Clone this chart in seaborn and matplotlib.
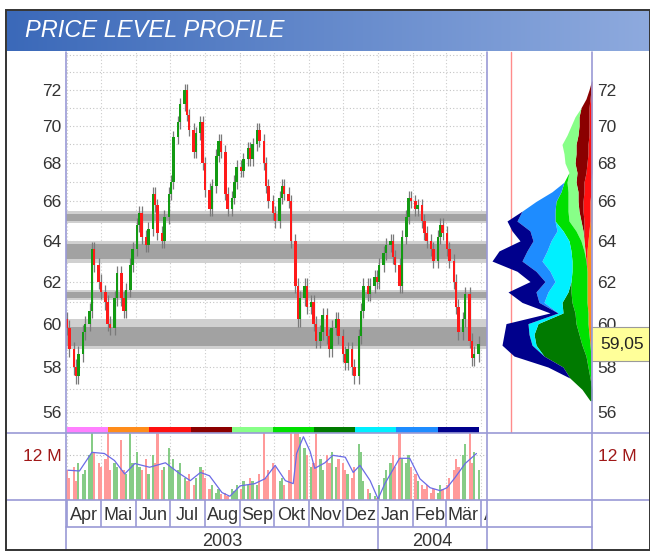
import numpy as np
import pandas as pd
import matplotlib
matplotlib.use("Agg")
import matplotlib.pyplot as plt
import matplotlib.dates as mdates
from matplotlib.lines import Line2D
from matplotlib.patches import Rectangle
from matplotlib.colors import LinearSegmentedColormap
from matplotlib.ticker import NullLocator, NullFormatter
from matplotlib.transforms import blended_transform_factory
import seaborn as sns

sns.set_style("white")
plt.rcParams["font.family"] = ["Liberation Sans", "DejaVu Sans"]

# closing prices, one every second trading day from 2003-04-01
closes = [
    59.8, 58.8, 58.0, 57.6, 58.6, 59.6, 60.0, 60.6, 63.6, 62.8, 62.0,          # Apr
    61.5, 61.0, 60.0, 59.8, 61.2, 62.4, 61.2, 60.6, 61.6, 62.8, 63.6,          # Mai
    64.8, 65.4, 64.2, 63.8, 64.6, 66.4, 65.8, 64.4, 64.0, 65.2, 66.4,          # Jun
    67.0, 69.4, 70.2, 71.2, 72.0, 70.6, 69.8, 68.6, 69.6, 70.2, 68.0,          # Jul
    66.6, 65.6, 66.8, 68.4, 69.2, 68.6, 66.4, 65.6, 66.2, 67.0, 67.8,          # Aug
    67.6, 68.2, 68.8, 68.2, 69.0, 69.8, 69.2, 68.0, 66.8, 66.0, 65.4,          # Sep
    65.0, 66.2, 66.8, 66.4, 66.0, 64.0, 61.8, 60.2, 61.2, 61.8, 60.8,          # Okt
    61.0, 60.0, 59.2, 59.6, 60.4, 59.4, 58.8, 59.8, 60.2, 59.4,                # Nov
    58.6, 58.2, 58.8, 58.0, 57.6, 59.4, 60.6, 61.8, 61.4, 61.8, 62.2, 62.0,    # Dez
    62.8, 63.4, 63.8, 64.0, 63.2, 62.8, 61.8, 64.2, 65.2, 66.2, 66.0,          # Jan
    65.6, 65.8, 65.0, 64.4, 64.0, 63.6, 63.0, 64.2, 64.8, 64.4,                # Feb
    63.6, 63.0, 62.0, 60.8, 59.6, 60.2, 61.4, 59.2, 58.4, 58.6, 59.05,         # Mär
]
first_open = 60.2
wick = 0.35

# volume in millions for the same days
volumes = [
    8, 6, 9, 5, 10, 7, 8, 12, 19, 13, 10,
    9, 11, 19, 8, 10, 9, 16, 8, 7, 19, 10,
    13, 9, 8, 11, 7, 12, 10, 19, 8, 9, 14,
    9, 11, 8, 10, 6, 5, 7, 4, 6, 9, 8,
    6, 3, 4, 2, 3, 1.5, 2, 1, 3, 2.5, 4,
    3, 5, 4, 6, 5, 4, 7, 19, 6, 8, 10,
    9, 5, 6, 4, 8, 19, 19, 19, 17, 14, 12,
    9, 10, 19, 11, 8, 12, 10, 13, 9, 11,
    10, 8, 7, 6, 9, 15, 13, 5, 3, 2, 1, 0.5,
    4, 6, 8, 10, 12, 9, 19, 11, 10, 12, 9,
    7, 5, 4, 3, 4, 2, 3, 2, 4, 3,
    4, 6, 8, 11, 9, 12, 15, 19, 10, 13, 8,
]

# volume moving average
ma_dates = ["2003-04-02", "2003-04-12", "2003-04-23", "2003-05-04", "2003-05-13", "2003-05-22",
            "2003-05-31", "2003-06-13", "2003-06-27", "2003-07-10", "2003-07-19", "2003-07-28",
            "2003-08-05", "2003-08-16", "2003-08-23", "2003-09-01", "2003-09-14", "2003-09-23",
            "2003-10-02", "2003-10-11", "2003-10-18", "2003-10-21", "2003-10-27", "2003-11-02",
            "2003-11-06", "2003-11-15", "2003-11-22", "2003-12-03", "2003-12-10", "2003-12-16",
            "2003-12-25", "2004-01-01", "2004-01-07", "2004-01-20", "2004-01-29", "2004-02-07",
            "2004-02-16", "2004-02-25", "2004-03-02", "2004-03-09", "2004-03-18", "2004-03-28"]
ma_values = [8.0, 7.8, 12.8, 12.5, 10.6, 7.0, 9.8, 8.8, 10.0, 7.0, 5.2, 7.4,
             6.5, 2.0, 1.0, 3.8, 4.4, 5.7, 9.3, 5.2, 4.4, 12.5, 17.0, 13.0,
             8.5, 10.0, 12.0, 11.5, 7.4, 9.3, 5.2, 0.3, 4.4, 11.2, 11.2, 5.7,
             3.3, 2.5, 3.3, 6.0, 9.8, 12.5]

# support / resistance zones
band_outer_lo = [64.9, 62.9, 61.1, 58.8]
band_outer_hi = [65.5, 64.0, 61.6, 60.2]
band_core_lo = [65.0, 63.1, 61.2, 58.95]
band_core_hi = [65.35, 63.85, 61.5, 59.85]

price_ticks = [56, 58, 60, 62, 64, 66, 68, 70, 72]
months = ["Apr", "Mai", "Jun", "Jul", "Aug", "Sep", "Okt", "Nov", "Dez", "Jan", "Feb", "Mär", "Apr"]
years = ["2003", "2004"]
last_price = 59.05
last_label = "59,05"

# price level profile: volume per period at each price level
profile_levels = [56.5, 57, 57.5, 58, 58.5, 59, 59.5, 60, 60.5, 61, 61.5, 62, 62.5, 63, 63.5, 64, 64.5,
                  65, 65.5, 66, 66.5, 67, 67.5, 68, 68.5, 69, 69.5, 70, 70.5, 71, 71.5, 72, 72.5]
prof_p1 = [0, 0, 1, 1, 1, 1, 1, 1, 1, 1, 1, 1, 1, 1, 1, 1, 0, 0, 0, 0, 0, 0, 0, 0, 0, 0, 0, 0, 0, 0, 0, 0, 0]
prof_p2 = [0, 0, 0, 0, 0, 1, 2, 3, 3, 4, 4, 4, 4, 4, 4, 3, 3, 2, 2, 2, 1, 1, 0, 0, 0, 0, 0, 0, 0, 0, 0, 0, 0]
prof_p3 = [0, 0, 0, 0, 0, 0, 0, 0, 0, 0, 0, 0, 0, 1, 2, 4, 5, 6, 7, 7, 7, 7, 6, 5, 4, 4, 3, 3, 3, 3, 2, 1, 0]
prof_p4 = [0, 0, 0, 0, 0, 0, 0, 0, 0, 0, 0, 0, 0, 0, 0, 0, 1, 3, 4, 5, 6, 8, 9, 12, 12, 12, 11, 10, 10, 8, 4, 2, 0.5]
prof_p5 = [0, 0, 0, 0, 0, 0, 0, 0, 0, 0, 0, 0, 0, 0, 1, 3, 7, 12, 11, 10, 10, 9, 8, 10, 12, 14, 11, 8, 4, 0, 0, 0, 0]
prof_p6 = [0, 0, 1, 3, 5, 8, 10, 12, 13, 15, 16, 16, 15, 14, 13, 12, 13, 14, 13, 12, 7, 3, 0, 0, 0, 0, 0, 0, 0, 0, 0, 0, 0]
prof_p7 = [2, 10, 20, 25, 42, 46, 45, 38, 12, 10, 3, 0, 0, 0, 0, 0, 0, 0, 0, 0, 0, 0, 0, 0, 0, 0, 0, 0, 0, 0, 0, 0, 0]
prof_p8 = [0, 0, 0, 0, 0, 4, 5, 10, 5, 18, 20, 16, 22, 30, 24, 18, 6, 0, 0, 0, 0, 0, 0, 0, 0, 0, 0, 0, 0, 0, 0, 0, 0]
prof_p9 = [0, 0, 0, 0, 0, 0, 0, 0, 0, 5, 12, 10, 14, 20, 20, 18, 27, 38, 33, 20, 9, 0, 0, 0, 0, 0, 0, 0, 0, 0, 0, 0, 0]
prof_p10 = [0, 0, 0, 15, 30, 30, 25, 22, 8, 17, 28, 15, 19, 30, 28, 13, 18, 10, 0, 0, 0, 0, 0, 0, 0, 0, 0, 0, 0, 0, 0, 0, 0]
profile_periods = [prof_p1, prof_p2, prof_p3, prof_p4, prof_p5, prof_p6, prof_p7, prof_p8, prof_p9, prof_p10]
period_colors = ["#ff80ff", "#ff8c1a", "#ff1010", "#8b0000", "#88ff88",
                 "#00e000", "#007a00", "#00f0ff", "#1e8cff", "#00008c"]
profile_marker = 81

# --- layout helpers (pixel coordinates of the 650x552 canvas) ---
W, H = 650, 552
FRAME = "#9a9ad6"
TXT = "#333333"
fig = plt.figure(figsize=(W / 100, H / 100), dpi=100)


def rect(x0, y0, x1, y1):
    return [x0 / W, 1 - y1 / H, (x1 - x0) / W, (y1 - y0) / H]


def fig_line(x0, y0, x1, y1, color=FRAME, lw=1.2):
    fig.add_artist(Line2D([x0 / W, x1 / W], [1 - y0 / H, 1 - y1 / H], color=color, lw=lw,
                          transform=fig.transFigure, zorder=20))


dates = pd.bdate_range("2003-04-01", periods=len(closes), freq="2B")
opens = [first_open] + closes[:-1]
c = np.array(closes)
o = np.array(opens)
up = c >= o
px_per_day = 414 / 366
x0 = mdates.date2num(pd.Timestamp("2003-04-01")) - 1 / px_per_day
x1 = x0 + 421 / px_per_day
month_starts = pd.date_range("2003-04-01", "2004-05-01", freq="MS")

ax_p = fig.add_axes(rect(66, 52, 487, 427))
ax_s = fig.add_axes(rect(66, 427, 487, 433), sharex=ax_p)
ax_v = fig.add_axes(rect(66, 433, 487, 500), sharex=ax_p)
ax_m = fig.add_axes(rect(66, 500, 487, 527), sharex=ax_p)
ax_y = fig.add_axes(rect(66, 527, 487, 550), sharex=ax_p)
ax_pf = fig.add_axes(rect(487, 52, 592, 427))
ax_pv = fig.add_axes(rect(487, 433, 592, 500))
ax_t = fig.add_axes(rect(7, 11, 650, 51))

for ax in [ax_p, ax_s, ax_v, ax_m, ax_y, ax_pf, ax_pv, ax_t]:
    for sp in ax.spines.values():
        sp.set_visible(False)
    ax.set_facecolor("white")
    ax.tick_params(axis="x", length=0, labelbottom=False)
    ax.tick_params(axis="y", length=0)
ax_p.set_xlim(x0, x1)

# --- price panel ---
ax_p.set_yscale("log")
ax_p.set_ylim(55.35, 74.16)
ax_p.yaxis.set_minor_locator(NullLocator())
ax_p.yaxis.set_minor_formatter(NullFormatter())
ax_p.set_yticks(price_ticks)
ax_p.set_yticklabels([str(t) for t in price_ticks])
ax_p.tick_params(axis="y", pad=3, labelsize=12.5, labelcolor=TXT)
for lvl in range(56, 75):
    ax_p.axhline(lvl, color="#c4c4c4", lw=0.8, ls=(0, (1, 2)), zorder=0)
for m in month_starts:
    ax_p.axvline(m, color="#cccccc", lw=0.8, ls=(0, (1, 2)), zorder=0)
for lo, hi in zip(band_outer_lo, band_outer_hi):
    ax_p.axhspan(lo, hi, color="#d0d0d0", lw=0, zorder=1)
for lo, hi in zip(band_core_lo, band_core_hi):
    ax_p.axhspan(lo, hi, color="#a2a2a2", lw=0, zorder=1)

highs = np.maximum(o, c) + wick
lows = np.minimum(o, c) - wick
ax_p.vlines(dates, lows, highs, color="#7a7a7a", lw=0.9, zorder=2)
body_lo = np.minimum(o, c)
body_h = np.maximum(np.abs(c - o), 0.12)
ax_p.bar(dates, body_h, bottom=body_lo, width=2.2,
         color=np.where(up, "#139a13", "#ff1a1a"), lw=0, zorder=3)

# --- period colour strip ---
edges = np.linspace(mdates.date2num(dates[0]), mdates.date2num(dates[-1]), len(period_colors) + 1)
for i, col in enumerate(period_colors):
    ax_s.axvspan(edges[i], edges[i + 1], color=col, lw=0)
ax_s.set_ylim(0, 1)
ax_s.set_yticks([])

# --- volume panel ---
ax_v.set_ylim(0, 18)
for m in month_starts:
    ax_v.axvline(m, color="#cccccc", lw=0.8, ls=(0, (1, 2)), zorder=0)
ax_v.axhline(12, color="#bbbbbb", lw=0.8, ls=(0, (1, 2)), zorder=0)
ax_v.bar(dates, volumes, width=2.0, color=np.where(up, "#86cc86", "#ff9a9a"), lw=0, zorder=1)
sns.lineplot(x=pd.to_datetime(ma_dates), y=ma_values, ax=ax_v, color="#6b6be6", lw=0.9, zorder=3)
ax_v.set_xlabel("")
ax_v.set_ylabel("")
ax_v.set_yticks([12])
ax_v.set_yticklabels(["12 M"])
ax_v.tick_params(axis="y", pad=3, labelsize=12.5, labelcolor="#a01818")
ax_v.tick_params(axis="x", length=0, labelbottom=False)

# --- month and year rows ---
ax_m.set_ylim(0, 1)
ax_m.set_yticks([])
for i, m in enumerate(month_starts[:-1]):
    ax_m.axvline(m, color=FRAME, lw=1.2)
    mid = m + (month_starts[i + 1] - m) / 2
    ax_m.text(mid, 0.26, months[i], ha="center", va="baseline", fontsize=13, color=TXT, clip_on=True)
ax_y.set_ylim(0, 1)
ax_y.set_yticks([])
jan = pd.Timestamp("2004-01-01")
ax_y.axvline(jan, color=FRAME, lw=1.2)
jan_num = mdates.date2num(jan)
ax_y.text((x0 + jan_num) / 2, 0.17, years[0], ha="center", va="baseline", fontsize=13, color=TXT)
ax_y.text((jan_num + x1) / 2, 0.17, years[1], ha="center", va="baseline", fontsize=13, color=TXT)

# --- profile panel ---
ax_pf.set_yscale("log")
ax_pf.set_ylim(55.35, 74.16)
ax_pf.set_xlim(105, 0)
ax_pf.yaxis.set_minor_locator(NullLocator())
ax_pf.yaxis.set_minor_formatter(NullFormatter())
ax_pf.set_yticks(price_ticks)
ax_pf.set_yticklabels([str(t) for t in price_ticks])
ax_pf.yaxis.tick_right()
ax_pf.tick_params(axis="y", length=0, pad=4, labelsize=12.5, labelcolor=TXT)
cum = np.zeros(len(profile_levels))
for vals, col in zip(profile_periods, period_colors):
    nxt = cum + np.array(vals, dtype=float)
    ax_pf.fill_betweenx(profile_levels, cum, nxt, color=col, lw=0, zorder=2)
    cum = nxt
ax_pf.axvline(profile_marker, ymin=-6 / 375, ymax=1, color="#ff8c8c", lw=1.0, clip_on=False, zorder=1)
tr = blended_transform_factory(ax_pf.transAxes, ax_pf.transData)
ax_pf.text(1.082, last_price, last_label, transform=tr, ha="left", va="center", fontsize=12.5,
           color="#222222", clip_on=False, zorder=30,
           bbox=dict(boxstyle="square,pad=0.55", fc="#ffff99", ec="#9a9a9a", lw=0.8))

ax_pv.set_ylim(0, 18)
ax_pv.set_xlim(0, 1)
ax_pv.set_yticks([12])
ax_pv.set_yticklabels(["12 M"])
ax_pv.yaxis.tick_right()
ax_pv.tick_params(axis="y", length=0, pad=4, labelsize=12.5, labelcolor="#a01818")

# --- title bar ---
grad = np.linspace(0, 1, 256).reshape(1, -1)
title_cmap = LinearSegmentedColormap.from_list("bar", ["#3b69b9", "#8eaade"])
ax_t.imshow(grad, aspect="auto", cmap=title_cmap, extent=(0, 1, 0, 1))
ax_t.set_xticks([])
ax_t.set_yticks([])
fig.text(25 / W, 1 - 37 / H, "PRICE LEVEL PROFILE", color="white", fontsize=17, style="italic",
         ha="left", va="baseline", zorder=25)

# --- frame lines ---
fig_line(66, 52, 66, 550)
fig_line(487, 52, 487, 550)
fig_line(592, 52, 592, 550)
fig_line(6, 433, 650, 433)
fig_line(6, 500, 650, 500)
fig_line(66, 527, 592, 527)
fig.add_artist(Rectangle((6 / W, 1 - 550 / H), (650 - 6) / W, (550 - 10) / H, fill=False,
                         ec="#333333", lw=1.4, transform=fig.transFigure, zorder=21))

fig.savefig("out.png", dpi=100)
